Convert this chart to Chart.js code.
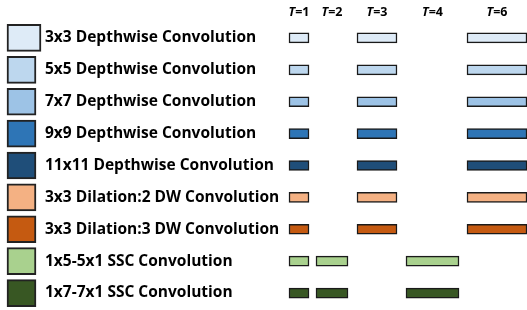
<!DOCTYPE html>
<html>
<head>
<meta charset="utf-8">
<script src="https://cdn.jsdelivr.net/npm/chart.js@4.4.1/dist/chart.umd.min.js"></script>
<style>
  html, body { margin: 0; padding: 0; background: #ffffff; }
  #wrap { position: relative; width: 527px; height: 310px; }
</style>
</head>
<body>
<div id="wrap"><canvas id="kernels"></canvas></div>
<script>
// Rows (operators) and their fill colours
const rowLabels = [
    '3x3 Depthwise Convolution',
    '5x5 Depthwise Convolution',
    '7x7 Depthwise Convolution',
    '9x9 Depthwise Convolution',
    '11x11 Depthwise Convolution',
    '3x3 Dilation:2 DW Convolution',
    '3x3 Dilation:3 DW Convolution',
    '1x5-5x1 SSC Convolution',
    '1x7-7x1 SSC Convolution'
];
const rowColors = [
    '#DEEBF7', '#BDD7EE', '#9DC3E6', '#2E75B6', '#1F4E79',
    '#F4B183', '#C55A11', '#A9D18E', '#385723'
];

// Columns: T values, span of each column's bar along x, rows present
const columnLabels = ['1', '2', '3', '4', '6'];
const columnStart = [289, 316, 357, 406, 467];
const columnEnd = [309, 348, 397, 459, 527];
const columnRows = [
    [0, 1, 2, 3, 4, 5, 6, 7, 8],
    [7, 8],
    [0, 1, 2, 3, 4, 5, 6],
    [7, 8],
    [0, 1, 2, 3, 4, 5, 6]
];

// Legend swatch extents along x
const swatchStart = [7, 7, 7, 7, 7, 7, 7, 7, 7];
const swatchEnd = [41, 36, 36, 36, 36, 36, 36, 36, 36];

const swatchData = rowLabels.map((_, i) => [swatchStart[i], swatchEnd[i]]);

const datasets = [{
    label: 'swatch',
    data: swatchData,
    backgroundColor: rowColors,
    borderColor: '#222222',
    borderWidth: 2,
    borderSkipped: false,
    grouped: false,
    barThickness: 27
}];

columnLabels.forEach((t, c) => {
    datasets.push({
        label: 'T=' + t,
        data: rowLabels.map((_, i) =>
            columnRows[c].includes(i) ? [columnStart[c], columnEnd[c]] : null),
        backgroundColor: rowColors,
        borderColor: '#1a1a1a',
        borderWidth: 1.5,
        borderSkipped: false,
        grouped: false,
        barThickness: 10
    });
});

// Column headers "T=n" with italic T
const headerPlugin = {
    id: 'headers',
    afterDraw(chart) {
        const ctx = chart.ctx;
        const x = chart.scales.x;
        const italic = 'italic bold 12.5px "Open Sans", sans-serif';
        const plain = 'bold 12.5px "Open Sans", sans-serif';
        ctx.save();
        ctx.fillStyle = '#000000';
        ctx.textBaseline = 'middle';
        ctx.textAlign = 'left';
        columnLabels.forEach((t, c) => {
            const mid = x.getPixelForValue((columnStart[c] + columnEnd[c]) / 2);
            ctx.font = italic;
            const wT = ctx.measureText('T').width;
            ctx.font = plain;
            const wRest = ctx.measureText('=' + t).width;
            const left = mid - (wT + wRest) / 2;
            ctx.font = italic;
            ctx.fillText('T', left, 12);
            ctx.font = plain;
            ctx.fillText('=' + t, left + wT, 12);
        });
        ctx.restore();
    }
};

new Chart(document.getElementById('kernels'), {
    type: 'bar',
    data: { labels: rowLabels, datasets: datasets },
    options: {
        indexAxis: 'y',
        responsive: true,
        maintainAspectRatio: false,
        animation: false,
        layout: { padding: { top: 22, bottom: 1, left: 0, right: 0 } },
        plugins: {
            legend: { display: false },
            tooltip: { enabled: false }
        },
        scales: {
            x: {
                type: 'linear',
                min: 0,
                max: 527,
                display: false
            },
            y: {
                position: 'left',
                grid: { display: false },
                border: { display: false },
                afterFit: (scale) => {
                    // labels sit inside the plot; take no room
                    scale.width = 0;
                    scale.paddingTop = 0;
                    scale.paddingBottom = 0;
                },
                ticks: {
                    mirror: true,
                    padding: 45,
                    color: '#000000',
                    font: { family: '"Open Sans", sans-serif', size: 15.5, weight: 'bold' }
                }
            }
        }
    },
    plugins: [headerPlugin]
});
</script>
</body>
</html>
